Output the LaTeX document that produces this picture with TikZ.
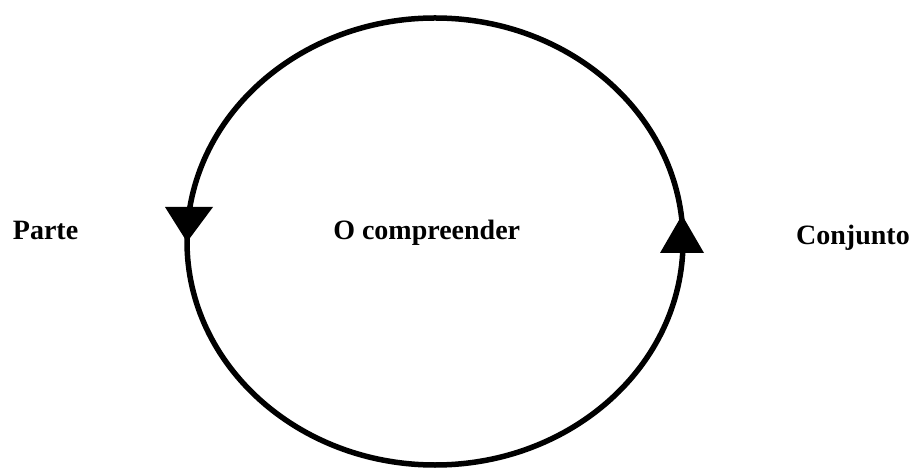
\documentclass[tikz,border=0pt]{standalone}
\usepackage{fontspec}
\setmainfont{Liberation Serif}
\begin{document}
\begin{tikzpicture}[x=1pt,y=1pt,
  label text/.style={font=\fontsize{28}{32}\selectfont\bfseries, inner sep=0pt},
  cycle line/.style={line width=5.5pt, black},
  head/.style={fill=black}]
\useasboundingbox (0,0) rectangle (917,471);
% the cycle
\coordinate (c) at (435,229.5);
\draw[cycle line] (c) ellipse [x radius=248, y radius=223.5];
% downward head on the left side, upward head on the right side
\fill[head] (165,264) -- (213,264) -- (187,229) -- cycle;
\fill[head] (660,218) -- (704,218) -- (682,256) -- cycle;
% labels
\node[label text, anchor=base west] (parte) at (12.7,231.7) {Parte};
\node[label text, anchor=base] (comp) at (426.7,231.7) {O compreender};
\node[label text, anchor=base west] (conj) at (796,226) {Conjunto};
\end{tikzpicture}
\end{document}
